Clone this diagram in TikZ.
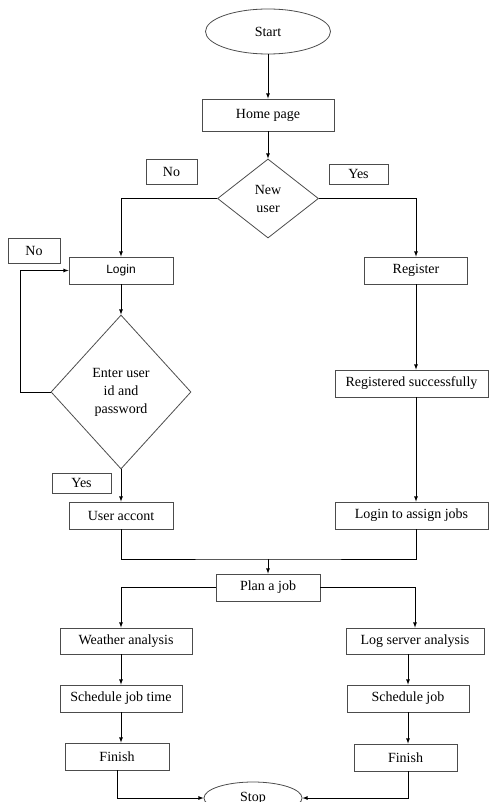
\documentclass[tikz,border=0pt]{standalone}
\usepackage{fontspec}
\setmainfont{Liberation Serif}
\setsansfont{Liberation Sans}
\usetikzlibrary{shapes.geometric}

\begin{document}
\begin{tikzpicture}[x=1pt, y=-1pt, line width=0.8pt,
  every node/.style={font=\fontsize{14}{18}\selectfont, inner sep=0pt},
  box/.style={draw=black!70, rectangle, minimum height=27pt},
  decision/.style={draw=black!70, diamond, align=center},
  term/.style={draw=black!70, ellipse},
  tag/.style={draw=black!70, rectangle},
  arr/.style={-latex}]
  % page frame
  \useasboundingbox (0,0) rectangle (489,802);
  \clip (0,0) rectangle (489,802);

  % start and home page
  \node[term, minimum width=125pt, minimum height=45pt] (start) at (268,31.5) {Start};
  \node[box, minimum width=132pt, minimum height=32pt] (home) at (268,115) {Home page};

  % new user decision
  \node[decision, minimum width=101pt, minimum height=79pt] (newuser) at (268,198.5) {New\\user};
  \node[tag, minimum width=51pt, minimum height=25pt] (tagnoa) at (171.5,171.5) {No};
  \node[tag, minimum width=59pt, minimum height=20pt] (tagyesa) at (358.5,174) {Yes};

  % left branch - login
  \node[tag, minimum width=52pt, minimum height=25pt] (tagnob) at (34,250.5) {No};
  \node[box, minimum width=104pt] (login) at (121,270.5) {\sffamily\fontsize{12}{14}\selectfont Login};
  \node[decision, minimum width=140pt, minimum height=154pt] (enter) at (121,392) {Enter user\\id and\\password};
  \node[tag, minimum width=59pt, minimum height=20pt] (tagyesb) at (81.5,483) {Yes};
  \node[box, minimum width=104pt] (useracc) at (121,515.5) {User accont};

  % right branch - register
  \node[box, minimum width=103pt] (register) at (416,270.5) {Register};
  \node[box, minimum width=153pt] (regok) at (411.5,383.5) {Registered successfully};
  \node[box, minimum width=153pt] (loginassign) at (411.5,515.5) {Login to assign jobs};

  % plan a job
  \coordinate (merge) at (268,559);
  \node[box, minimum width=104pt] (plan) at (268,587.5) {Plan a job};

  % two job lines
  \node[box, minimum width=132pt, minimum height=26pt] (weather) at (126,641) {Weather analysis};
  \node[box, minimum width=138pt, minimum height=26pt] (logsrv) at (415,641) {Log server analysis};
  \node[box, minimum width=122pt] (schedtime) at (121,698.5) {Schedule job time};
  \node[box, minimum width=122pt] (schedjob) at (408,698.5) {Schedule job};
  \node[box, minimum width=104pt] (finl) at (117,756.5) {Finish};
  \node[box, minimum width=103pt] (finr) at (405.5,757.5) {Finish};

  % stop
  \node[term, minimum width=98pt, minimum height=32pt] (stop) at (253,798) {Stop};

  % connectors
  \draw[arr] (start) -- (home);
  \draw[arr] (home) -- (newuser);
  \draw[arr] (newuser.west) -| (login.north);
  \draw[arr] (newuser.east) -| (register.north);
  \draw[arr] (login) -- (enter);
  \draw[arr] (enter.west) -- ++(-30,0) |- (login.west);
  \draw[arr] (enter) -- (useracc);
  \draw[arr] (register.south) -- (register.south |- regok.north);
  \draw[arr] (register.south |- regok.south) -- (register.south |- loginassign.north);
  \draw (useracc.south) |- (merge) -| (register.south |- loginassign.south);
  \draw[arr] (merge) -- (plan);
  \draw[arr] (plan.west) -| (schedtime.north |- weather.north);
  \draw[arr] (plan.east) -| (logsrv.north);
  \draw[arr] (schedtime.north |- weather.south) -- (schedtime.north);
  \draw[arr] (schedjob.north |- logsrv.south) -- (schedjob.north);
  \draw[arr] (schedtime.south) -- (schedtime.south |- finl.north);
  \draw[arr] (schedjob.south) -- (schedjob.south |- finr.north);
  \draw[arr] (finl.south) |- (stop.west);
  \draw[arr] (schedjob.south |- finr.south) |- (stop.east);

\end{tikzpicture}
\end{document}
